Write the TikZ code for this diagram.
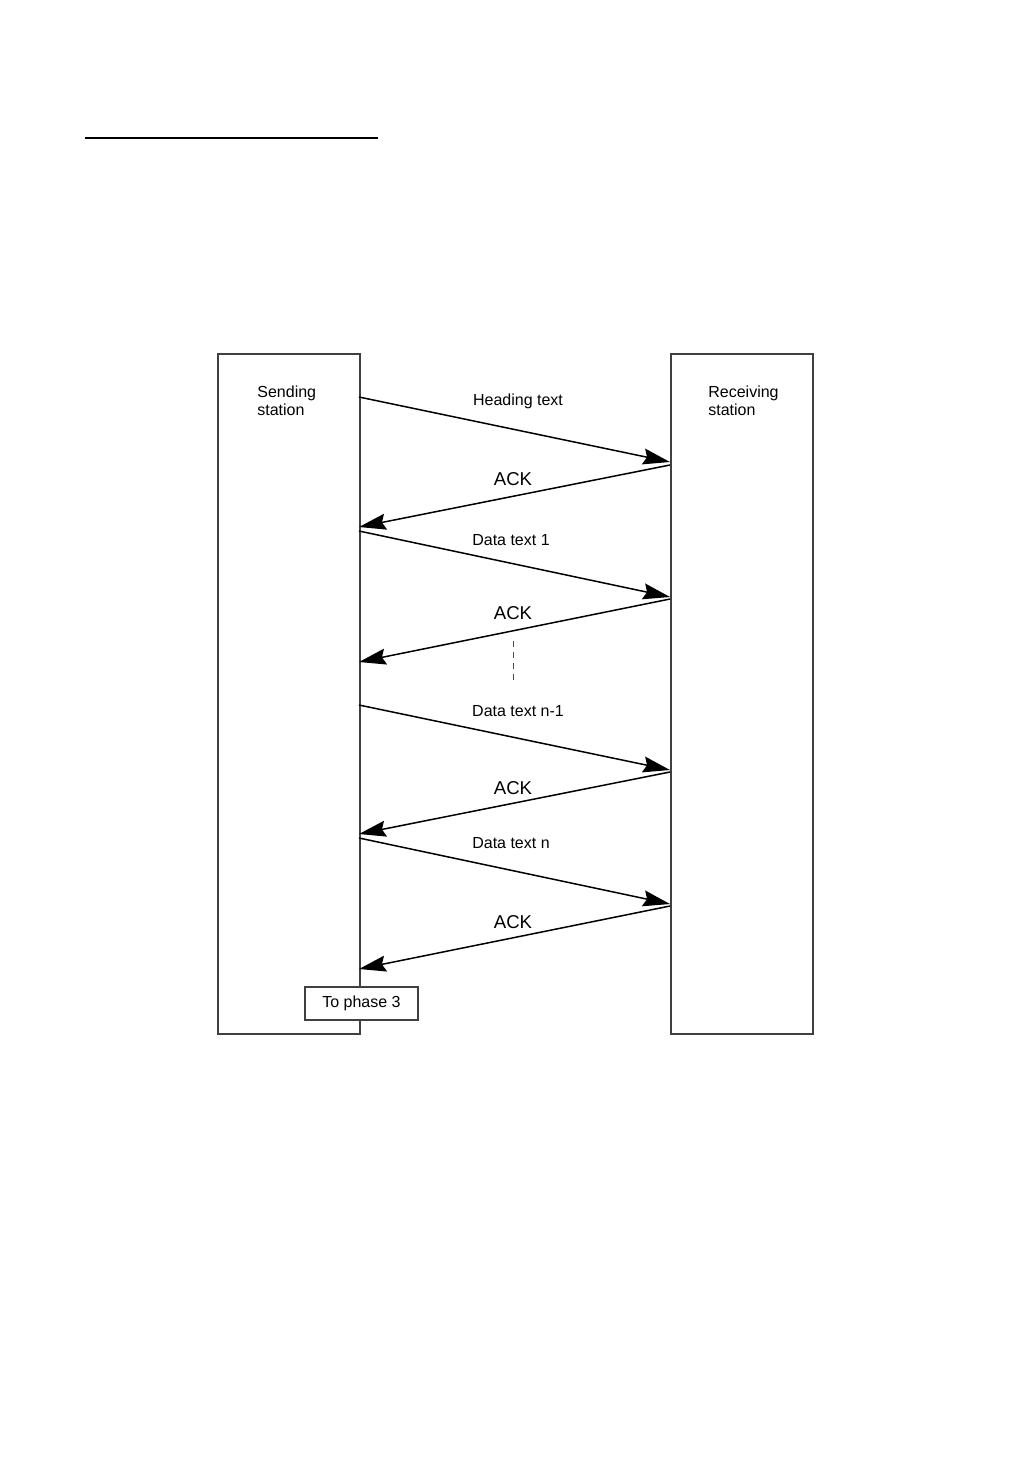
\documentclass[tikz,border=0pt]{standalone}
\usepackage{fontspec}
\setmainfont{Liberation Sans}
\usetikzlibrary{arrows.meta}

\begin{document}
\begin{tikzpicture}[x=0.5pt, y=-0.5pt, >={Stealth[length=13.5pt, width=8pt, inset=1.8pt]},
	station/.style={draw=black!75, line width=0.8pt, inner sep=0pt, minimum width=71pt, minimum height=340pt, anchor=north west},
	msg/.style={->, line width=0.75pt},
	txt/.style={font=\fontsize{8}{9}\selectfont, inner sep=0pt},
	ack/.style={font=\fontsize{9.3}{11}\selectfont, inner sep=0pt}]
	\useasboundingbox (0,0) rectangle (1032,1458);
	\draw[line width=1.1pt] (85,138) -- (378,138);
	% the two stations
	\node[station] (send) at (217,353) {};
	\node[station] (recv) at (670,353) {};
	\node[txt, align=left, anchor=west] (sendtxt) at (257,401) {Sending\\station};
	\node[txt, align=left, anchor=west] (recvtxt) at (708,401) {Receiving\\station};
	% end points on the station edges
	\foreach \n/\a/\b in {1/397/462, 2/531/597, 3/705/770, 4/838/904} {
		\coordinate (out\n) at (359,\a);
		\coordinate (in\n) at (670,\b);
	}
	\foreach \n/\a/\b in {1/465/527, 2/599/662, 3/772/834, 4/906/969} {
		\coordinate (ackout\n) at (670,\a);
		\coordinate (ackin\n) at (359,\b);
		\draw[msg] (ackout\n) -- (ackin\n);
	}
	\foreach \n in {1,...,4}
		\draw[msg] (out\n) -- (in\n);
	% message texts
	\node[txt] (head) at (518,401) {Heading text};
	\node[txt] (data1) at (511,540) {Data text 1};
	\node[txt] (datanm) at (518,711) {Data text n-1};
	\node[txt] (datan) at (511,843) {Data text n};
	\foreach \n/\y in {1/479, 2/613, 3/788, 4/922}
		\node[ack] (ack\n) at (513,\y) {ACK};
	\draw[black!70, line width=0.75pt, dash pattern=on 3pt off 2.5pt] (513.5,641) -- (513.5,684);
	\node[draw=black!75, line width=0.8pt, fill=white, txt, minimum width=56.5pt, minimum height=16.5pt] (phase) at (361.5,1003.5) {To phase 3};
\end{tikzpicture}
\end{document}
